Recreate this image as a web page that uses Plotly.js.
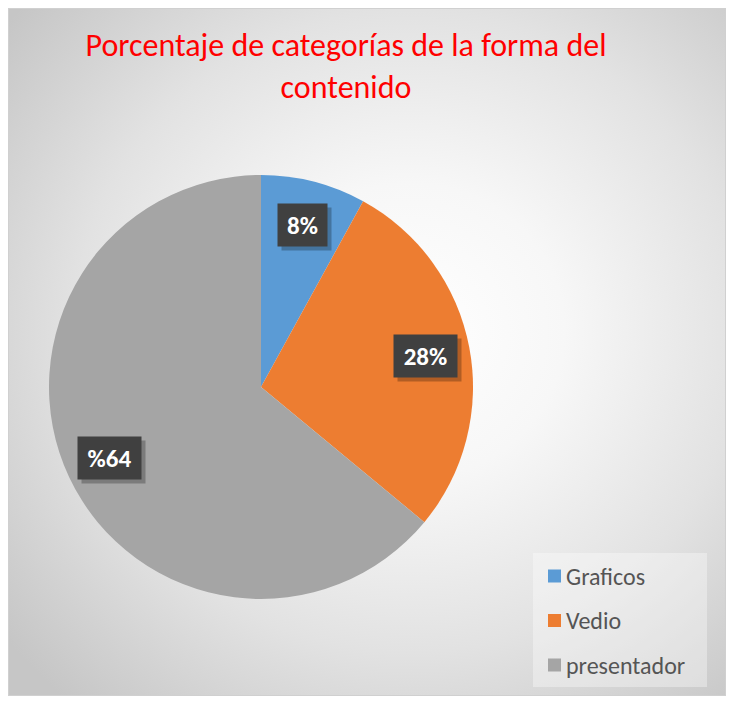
<!DOCTYPE html>
<html>
<head>
<meta charset="utf-8">
<script src="https://cdn.plot.ly/plotly-3.0.1.min.js"></script>
<style>
  html, body { margin: 0; padding: 0; background: #ffffff; }
  #frame { position: absolute; left: 0; top: 0; width: 731px; height: 701px; }
  #bg {
    position: absolute; left: 8px; top: 8px; width: 716px; height: 686px;
    border: 1px solid #d0d0d0;
    background: radial-gradient(ellipse 72% 72% at 56% 47%, #ffffff 0%, #f7f7f7 30%, #e2e2e2 65%, #c6c6c6 100%);
  }
  #chart { position: absolute; left: 0; top: 0; width: 731px; height: 701px; }
</style>
</head>
<body>
<div id="frame">
  <div id="bg"></div>
  <div id="chart"></div>
</div>
<script>
// ---- data ----
const categories = ["Graficos", "Vedio", "presentador"];
const values = [8, 28, 64];
const sliceLabels = ["8%", "28%", "%64"];
const sliceColors = ["#5B9BD5", "#ED7D31", "#A5A5A5"];
const titleText = "Porcentaje de categorías de la forma del<br>contenido";

// ---- layout constants ----
const W = 731, H = 701;
const FONT = "Carlito, Lato, 'Open Sans', sans-serif";
const pieCx = 261, pieCy = 387, pieR = 212;
const domX = [(pieCx - pieR) / W, (pieCx + pieR) / W];
const domY = [1 - (pieCy + pieR) / H, 1 - (pieCy - pieR) / H];

// label positions derived from values (mid-angle of each slice, clockwise from top)
const total = values.reduce((a, b) => a + b, 0);
const annotations = [];
let cum = 0;
values.forEach((v, i) => {
  const mid = (cum + v / 2) / total * 2 * Math.PI;
  cum += v;
  const px = pieCx + 0.79 * pieR * Math.sin(mid);
  const py = pieCy - 0.79 * pieR * Math.cos(mid);
  const ax = px / W, ay = 1 - py / H;
  const bw = 14 * sliceLabels[i].length + 3;
  annotations.push({
    xref: "paper", yref: "paper", x: ax, y: ay, xanchor: "center", yanchor: "middle",
    text: " ", showarrow: false, xshift: 4, yshift: -4, width: bw, height: 24,
    font: { family: FONT, size: 25, color: "rgba(0,0,0,0)" },
    bgcolor: "rgba(0,0,0,0.25)", borderpad: 9
  });
  annotations.push({
    xref: "paper", yref: "paper", x: ax, y: ay, xanchor: "center", yanchor: "middle",
    text: "<b>" + sliceLabels[i] + "</b>", showarrow: false, width: bw, height: 24,
    font: { family: FONT, size: 25, color: "#ffffff" },
    bgcolor: "#404040", borderpad: 9
  });
});

// custom legend
const legLeft = 533, legTop = 553, legRight = 707, legBottom = 687;
const shapes = [{
  type: "rect", xref: "paper", yref: "paper",
  x0: legLeft / W, x1: legRight / W, y0: 1 - legBottom / H, y1: 1 - legTop / H,
  fillcolor: "rgba(255,255,255,0.35)", line: { width: 0 }, layer: "below"
}];
const rowY0 = 576, rowGap = 44.5, sq = 13, sqLeft = 548;
categories.forEach((c, i) => {
  const cy = rowY0 + i * rowGap;
  shapes.push({
    type: "rect", xref: "paper", yref: "paper",
    x0: sqLeft / W, x1: (sqLeft + sq) / W, y0: 1 - (cy + sq / 2) / H, y1: 1 - (cy - sq / 2) / H,
    fillcolor: sliceColors[i], line: { width: 0 }
  });
  annotations.push({
    xref: "paper", yref: "paper", x: (sqLeft + sq + 3) / W, y: 1 - cy / H,
    xanchor: "left", yanchor: "middle", text: c, showarrow: false,
    font: { family: FONT, size: 24, color: "#555555" }
  });
});

const data = [{
  type: "pie",
  labels: categories,
  values: values,
  sort: false,
  direction: "clockwise",
  rotation: 0,
  marker: { colors: sliceColors, line: { width: 0 } },
  textinfo: "none",
  hoverinfo: "label+percent",
  domain: { x: domX, y: domY },
  showlegend: false
}];

const layout = {
  width: W, height: H,
  margin: { l: 0, r: 0, t: 0, b: 0 },
  paper_bgcolor: "rgba(0,0,0,0)",
  plot_bgcolor: "rgba(0,0,0,0)",
  showlegend: false,
  title: {
    text: titleText,
    x: 346 / W, xanchor: "center",
    y: 1 - 56 / H, yanchor: "middle",
    font: { family: FONT, size: 32, color: "#FF0000" }
  },
  annotations: annotations,
  shapes: shapes
};

Plotly.newPlot("chart", data, layout, { displayModeBar: false, staticPlot: true });
</script>
</body>
</html>
